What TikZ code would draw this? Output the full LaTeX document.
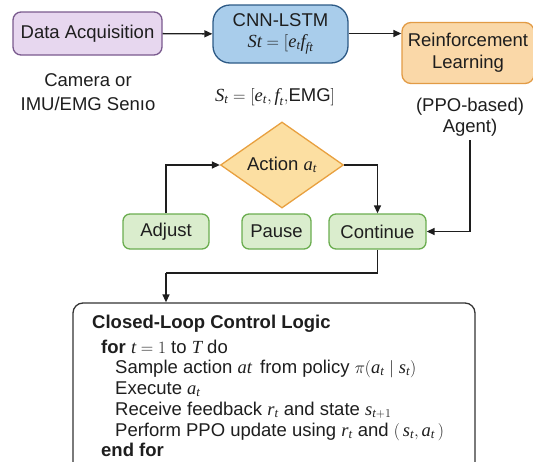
\documentclass[tikz,border=0pt]{standalone}
\usepackage{amsmath}
\usepackage{fontspec}
\setmainfont{Liberation Sans}
\newfontfamily\serifvar{Liberation Serif}
\usetikzlibrary{arrows.meta,shapes.geometric}

% italic serif variables inside math
\newcommand{\mvi}[1]{\text{\serifvar\itshape #1}}

\definecolor{ink}{HTML}{1E1E1E}
\definecolor{acqfill}{HTML}{E7D7EF}
\definecolor{acqline}{HTML}{7A5A8E}
\definecolor{cnnfill}{HTML}{A9CDEB}
\definecolor{cnnline}{HTML}{2D5A86}
\definecolor{rlfill}{HTML}{FAD8A8}
\definecolor{rlline}{HTML}{E29B45}
\definecolor{actfill}{HTML}{FCDFA2}
\definecolor{actline}{HTML}{E8A03F}
\definecolor{optfill}{HTML}{DAEDCD}
\definecolor{optline}{HTML}{6BAD50}
\definecolor{logicline}{HTML}{333333}

\tikzset{
  base/.style={font=\fontsize{18.5}{22}\selectfont, text=ink, inner sep=0pt},
  box/.style={base, draw, line width=1.3pt, align=center},
  acqbox/.style={box, fill=acqfill, draw=acqline, rounded corners=8pt,
    minimum width=149pt, minimum height=43pt},
  cnnbox/.style={box, fill=cnnfill, draw=cnnline, rounded corners=17pt,
    minimum width=135pt, minimum height=58pt},
  rlbox/.style={box, fill=rlfill, draw=rlline, rounded corners=9pt,
    minimum width=132pt, minimum height=61pt},
  actbox/.style={box, diamond, fill=actfill, draw=actline,
    minimum width=123pt, minimum height=75pt},
  optbox/.style={box, fill=optfill, draw=optline, rounded corners=7pt,
    minimum height=35pt},
  logicbox/.style={draw=logicline, line width=1.3pt, fill=white,
    rounded corners=10pt, minimum width=402pt, minimum height=180pt},
  note/.style={base, align=center},
  codeline/.style={base, font=\fontsize{18.5}{21}\selectfont, anchor=base west},
  flow/.style={draw=ink, line width=1.4pt,
    -{Triangle[length=8pt,width=7pt]}},
  plain/.style={draw=ink, line width=1.4pt},
}

\begin{document}
\begin{tikzpicture}[x=1pt,y=-1pt]
  \useasboundingbox (0,0) rectangle (533,461);
  \clip (0,0) rectangle (533,461);

  % top row: sensing -> state encoder -> agent
  \node[acqbox] (acq) at (87.5,33.5) {Data Acquisition};
  \node[cnnbox] (cnn) at (280.5,34) {CNN-LSTM\\[-1pt]$\mvi{St} = [\mvi{e}_{\mvi{t}}\mvi{f}_{\mvi{ft}}$};
  \node[rlbox] (rl) at (468,53) {Reinforcement\\Learning};

  \node[note, font=\fontsize{18.5}{24}\selectfont] (sensor) at (88,92) {Camera or\\IMU/EMG Senıo};
  \node[note] (state) at (275,97) {$\mvi{S}_{\mvi{t}} = [\mvi{e}_{\mvi{t}}, \mvi{f}_{\mvi{t}},$EMG$]$};
  \node[note, font=\fontsize{18.5}{21}\selectfont] (agent) at (470,117) {(PPO-based)\\Agent)};

  \draw[flow] (acq) -- (cnn);
  \draw[flow] (cnn.east |- acq) -- (rl.west |- acq);

  % action decision
  \node[actbox] (act) at (282,165) {Action $\mvi{a}_{\mvi{t}}$};
  \node[optbox, minimum width=86pt] (adjust) at (166,231.5) {Adjust};
  \node[optbox, minimum width=69pt] (pause) at (276.5,231.5) {Pause};
  \node[optbox, minimum width=97pt] (cont) at (377.5,231.5) {Continue};

  \draw[flow] (adjust.north) |- (act.west);
  \draw[flow] (act.east) -| (cont.north);
  \draw[flow] ([yshift=-4pt]agent.south) |- (cont.east);

  % control loop listing
  \node[logicbox] (logic) at (274,393) {};
  \coordinate (drop) at (166,273);
  \draw[plain] (cont.south) |- (drop);
  \draw[flow] (drop) -- (drop |- logic.north);

  \node[codeline, font=\fontsize{18.5}{22}\bfseries] (title) at (92,328) {Closed-Loop Control Logic};
  \node[codeline] (l1) at (101,353) {\textbf{for} $\mvi{t} = 1$ to $\mvi{T}$ do};
  \node[codeline] (l2) at (115,373) {Sample action $\mvi{at}$\, from policy $\pi(\mvi{a}_{\mvi{t}} \mid \mvi{s}_{\mvi{t}})$};
  \node[codeline] (l3) at (115,394) {Execute $\mvi{a}_{\mvi{t}}$};
  \node[codeline] (l4) at (115,415) {Receive feedback $\mvi{r}_{\mvi{t}}$ and state $\mvi{s}_{\mvi{t}+1}$};
  \node[codeline] (l5) at (115,436) {Perform PPO update using $\mvi{r}_{\mvi{t}}$ and $(\,\mvi{s}_{\mvi{t}}, \mvi{a}_{\mvi{t}}\,)$};
  \node[codeline] (l6) at (101,456) {\textbf{end for}};
\end{tikzpicture}
\end{document}
